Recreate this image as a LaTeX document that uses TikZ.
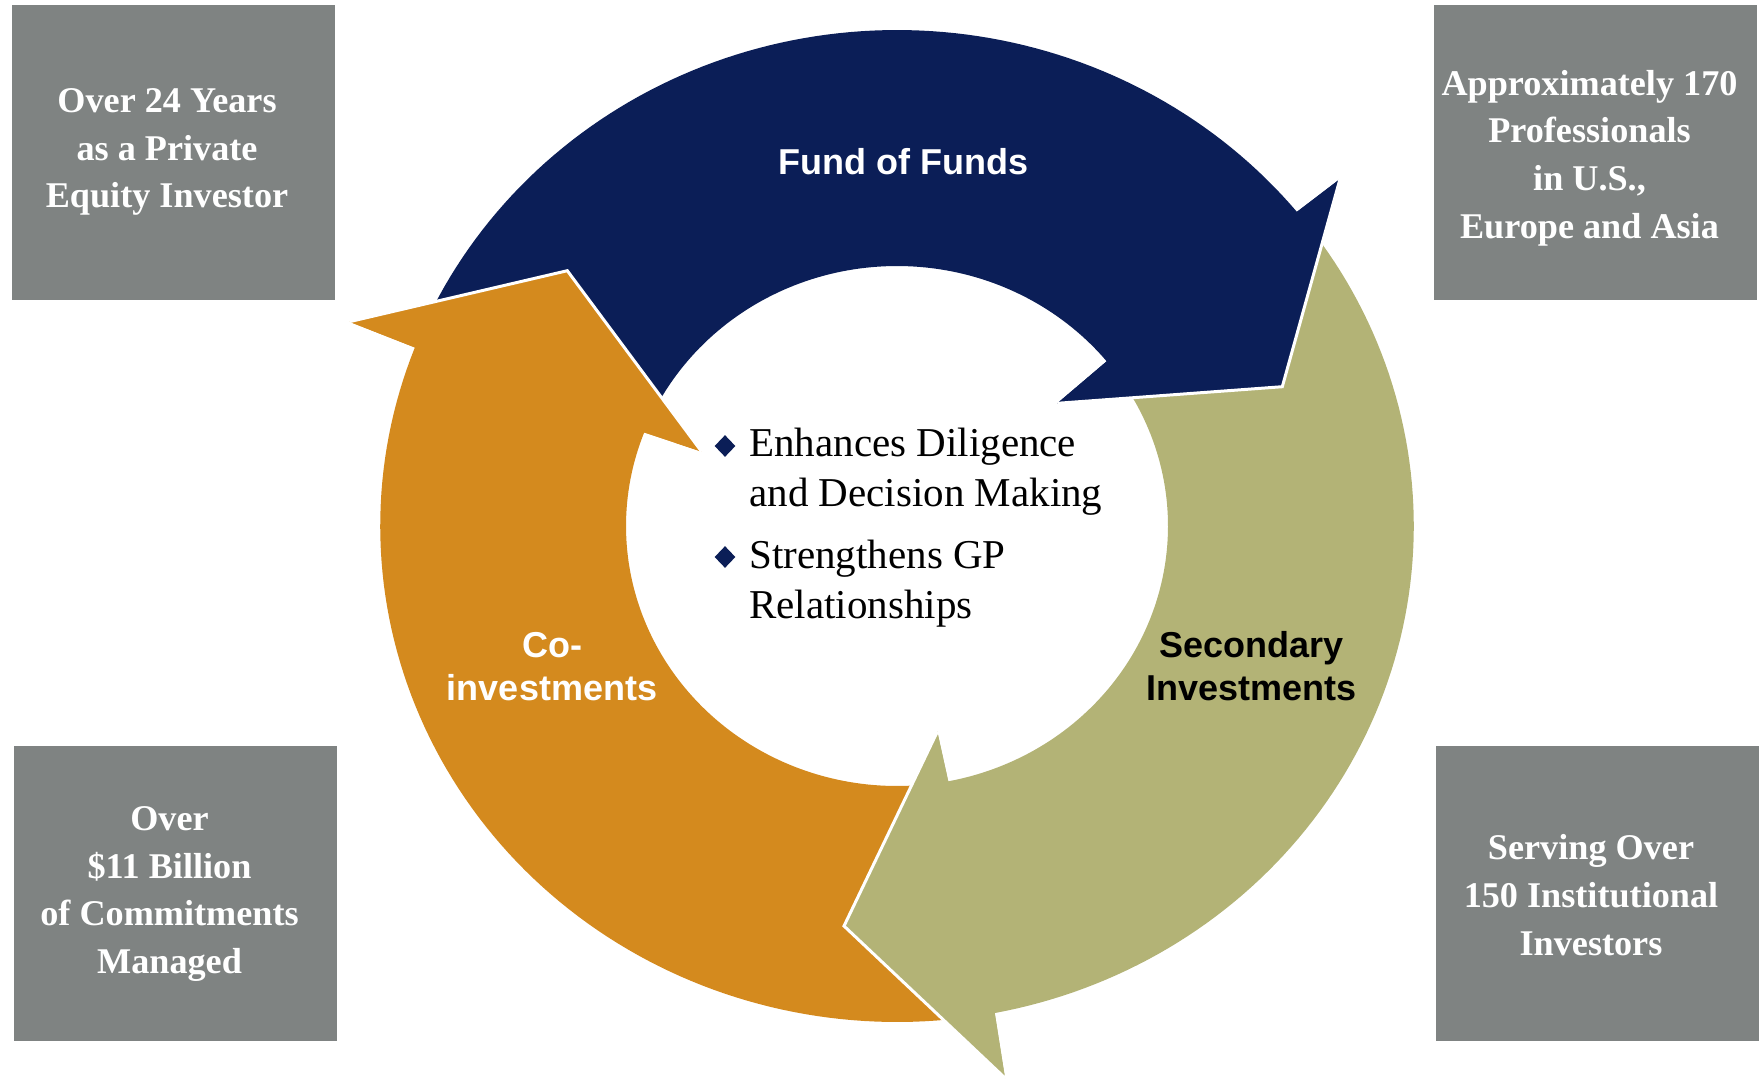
\documentclass[tikz,border=0pt]{standalone}
\usepackage{fontspec}
\setmainfont{Liberation Serif}
\newfontfamily\lsans{Liberation Sans}
\usetikzlibrary{shapes.geometric}
\definecolor{navyc}{RGB}{11,30,87}
\definecolor{orangec}{RGB}{212,138,30}
\definecolor{olivec}{RGB}{179,179,118}
\definecolor{boxc}{RGB}{127,131,130}
\begin{document}
\begin{tikzpicture}[x=0.5pt,y=-0.5pt,
  box/.style={fill=boxc, inner sep=0pt, minimum width=161.5pt, minimum height=147.5pt},
  boxtext/.style={text=white, inner sep=0pt, align=center,
    font=\fontsize{18.1pt}{23.85pt}\selectfont\bfseries},
  lbl/.style={font=\lsans\fontsize{18pt}{21.5pt}\selectfont\bfseries, align=center, inner sep=0pt},
  bul/.style={diamond, fill=navyc, inner sep=0pt, minimum width=10.5pt, minimum height=11pt},
  ctext/.style={anchor=base west, align=left, inner sep=0pt,
    font=\fontsize{20.5pt}{25pt}\selectfont},
  whiteedge/.style={draw=white, line width=1.5pt, line join=miter}]
\useasboundingbox (0,0) rectangle (1760,1082);

% key points of the three arrows
\coordinate (nOJ) at ({897+516.8*cos(-39.3)},{526+496*sin(-39.3)});
\coordinate (nIJ) at ({897+271*cos(-39.3)},{526+260*sin(-39.3)});
\coordinate (nOB) at (1340,179);
\coordinate (nT)  at (1282.3,386.7);
\coordinate (nIB) at (1057.3,403.3);

\coordinate (gOJ) at ({897+516.8*cos(79.1)},{526+496*sin(79.1)});
\coordinate (gIJ) at ({897+271*cos(79.1)},{526+260*sin(79.1)});
\coordinate (gOB) at (1005,1078);
\coordinate (gT)  at (844,926);
\coordinate (gIB) at (937.3,731.7);

\coordinate (oOJ) at ({897+516.8*cos(201.1)},{526+496*sin(201.1)});
\coordinate (oIJ) at ({897+271*cos(201.1)},{526+260*sin(201.1)});
\coordinate (oOB) at (349.3,321.7);
\coordinate (oT)  at (567.3,270.7);
\coordinate (oIB) at (701.7,451.7);

% bodies
\fill[navyc] plot[domain=-155:-39.3,samples=90] ({897+516.8*cos(\x)},{526+496*sin(\x)})
  -- (nOB) -- (nT) -- (nIB)
  -- plot[domain=-39.3:-155,samples=90] ({897+271*cos(\x)},{526+260*sin(\x)}) -- cycle;
\fill[olivec] plot[domain=-36:79.1,samples=90] ({897+516.8*cos(\x)},{526+496*sin(\x)})
  -- (gOB) -- (gT) -- (gIB)
  -- plot[domain=79.1:-36,samples=90] ({897+271*cos(\x)},{526+260*sin(\x)}) -- cycle;
\fill[orangec] plot[domain=83:201.1,samples=90] ({897+516.8*cos(\x)},{526+496*sin(\x)})
  -- (oOB) -- (oT) -- (oIB)
  -- plot[domain=201.1:83,samples=90] ({897+271*cos(\x)},{526+260*sin(\x)}) -- cycle;

% heads on top
\fill[navyc] (nOJ) -- (nOB) -- (nT) -- (nIB) -- (nIJ) -- cycle;
\draw[whiteedge] (nOB) -- (nT) -- (nIB);
\fill[olivec] (gOJ) -- (gOB) -- (gT) -- (gIB) -- (gIJ) -- cycle;
\draw[whiteedge] (gOB) -- (gT) -- (gIB);
\fill[orangec] (oOJ) -- (oOB) -- (oT) -- (oIB) -- (oIJ) -- cycle;
\draw[whiteedge] (oOB) -- (oT) -- (oIB);

% arrow labels
\node[lbl, text=white] (fof) at (903.5,161.6) {Fund of Funds};
\node[lbl, text=white] (coi) at (552,666.5) {Co-\\investments};
\node[lbl, text=black] (sec) at (1251.5,666.5) {Secondary\\Investments};

% centre bullets (node base = baseline of last line)
\node[bul] (d1) at (725,446) {};
\node[ctext] (t1) at (749,506.5) {Enhances Diligence\\and Decision Making};
\node[bul] (d2) at (725,557) {};
\node[ctext] (t2) at (749,618) {Strengthens GP\\Relationships};

% corner boxes
\node[box] (tl) at (173,152.5) {};
\node[box] (tr) at (1595.5,152.5) {};
\node[box] (bl) at (175.5,893.5) {};
\node[box] (br) at (1597,893.5) {};
\node[boxtext] (tlt) at (167,152) {Over 24 Years\\as a Private\\Equity Investor};
\node[boxtext] (trt) at (1589.5,158) {Approximately 170\\Professionals\\in U.S.,\\Europe and Asia};
\node[boxtext] (blt) at (169.5,894) {Over\\\$11 Billion\\of Commitments\\Managed};
\node[boxtext] (brt) at (1591,895) {Serving Over\\150 Institutional\\Investors};
\end{tikzpicture}
\end{document}
